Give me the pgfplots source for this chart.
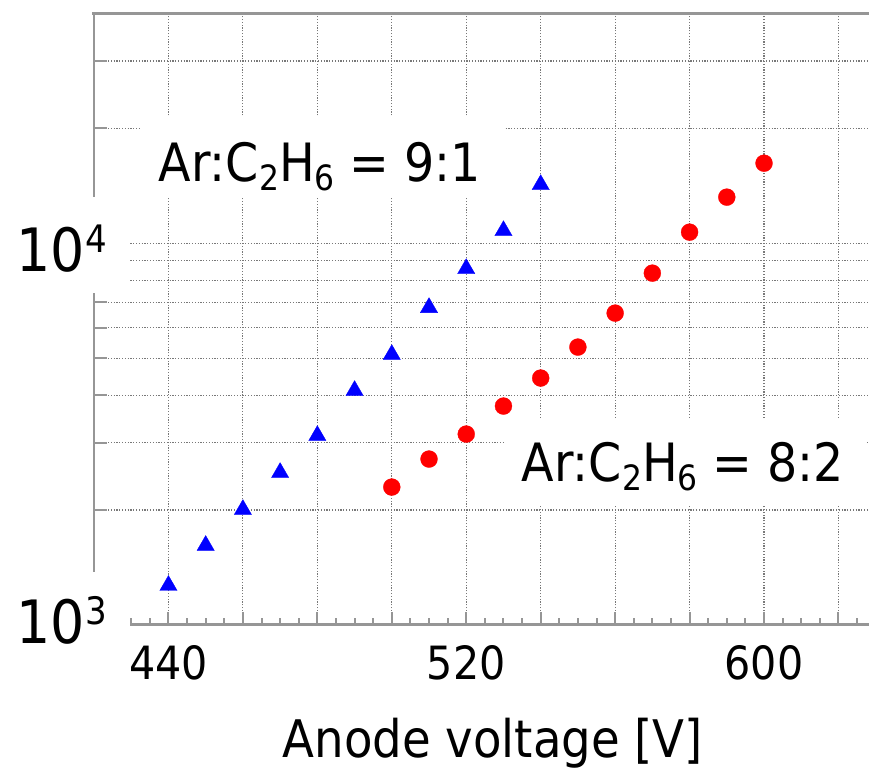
\documentclass[border=0pt]{standalone}
\usepackage{fontspec}
\setmainfont{DejaVu Sans Condensed}
\usepackage{pgfplots}
\pgfplotsset{compat=1.18}
\definecolor{axgray}{RGB}{150,150,150}
\definecolor{gridgray}{RGB}{120,120,120}
\definecolor{mblue}{RGB}{0,0,255}
\definecolor{mred}{RGB}{255,0,0}
\newcommand{\sub}[1]{\raisebox{-9bp}{\fontsize{35}{35}\selectfont #1}}
\newcommand{\sups}[1]{\raisebox{19bp}{\fontsize{38}{38}\selectfont #1}}
\begin{document}
\begin{tikzpicture}
\begin{axis}[
  scale only axis, width=775bp, height=611.7bp, at={(0,0)}, anchor=south west,
  xmin=420, xmax=628.2, ymode=log, ymin=1000, ymax=40000,
  clip=false,
  axis line style={draw=none},
  xtick={440,460,...,620}, xticklabels={440,,,,520,,,,600,},
  minor xtick={425,430,...,625},
  ytick={1000,2000,3000,4000,5000,6000,7000,8000,9000,10000,20000,30000},
  yticklabels={},
  xtick pos=bottom, ytick pos=left, tick align=inside,
  major tick length=13bp, minor tick length=7bp,
  tick style={axgray, line width=2bp},
  xmajorgrids, ymajorgrids, xminorgrids=false, yminorgrids=false,
  major grid style={gridgray, line width=1.2bp, dash pattern=on 1.2bp off 1.6bp},
  xticklabel style={font=\fontsize{46}{46}\selectfont, anchor=base, yshift=-55bp, inner sep=0pt},
]
\addplot[only marks, mark=triangle*, mark size=10bp, mark options={draw=mblue, fill=mblue, line width=0.3bp}] coordinates {
(440,1269) (450,1615) (460,2006) (470,2507) (480,3134) (490,4111)
(500,5107) (510,6780) (520,8574) (530,10782) (540,14230)};
\addplot[only marks, mark=*, mark size=8.5bp, mark options={draw=mred, fill=mred, line width=0.3bp}] coordinates {
(500,2297) (510,2720) (520,3162) (530,3744) (540,4433) (550,5343)
(560,6558) (570,8347) (580,10686) (590,13198) (600,16196)};
\draw[axgray, line width=2.5bp, line cap=rect] (rel axis cs:0,0) -- (rel axis cs:0,1);
\draw[axgray, line width=3bp, line cap=rect] (rel axis cs:0,1) -- (rel axis cs:1,1);
\draw[axgray, line width=3bp] (rel axis cs:0,0) -- (rel axis cs:1,0);
\end{axis}
\fill[white] (-94bp,332bp) rectangle (36bp,428bp);
\fill[white] (-94bp,-143bp) rectangle (36bp,53bp);
\fill[white] (46bp,428bp) rectangle (411bp,508bp);
\fill[white] (411bp,120bp) rectangle (771bp,207bp);
\node[anchor=base, inner sep=0pt, font=\fontsize{53}{53}\selectfont] at (226bp,443bp) {Ar:C\sub{2}H\sub{6} = 9:1};
\node[anchor=base, inner sep=0pt, font=\fontsize{53}{53}\selectfont] at (589bp,143bp) {Ar:C\sub{2}H\sub{6} = 8:2};
\node[anchor=base, inner sep=0pt, font=\fontsize{52}{52}\selectfont] at (399bp,-132bp) {Anode voltage [V]};
\node[anchor=base east, inner sep=0pt, font=\fontsize{60}{60}\selectfont] at (13bp,353bp) {10\sups{4}};
\node[anchor=base east, inner sep=0pt, font=\fontsize{60}{60}\selectfont] at (13bp,-18bp) {10\sups{3}};
\pgfresetboundingbox
\path[use as bounding box] (-94bp,-143bp) rectangle (775bp,625bp);
\end{tikzpicture}
\end{document}
